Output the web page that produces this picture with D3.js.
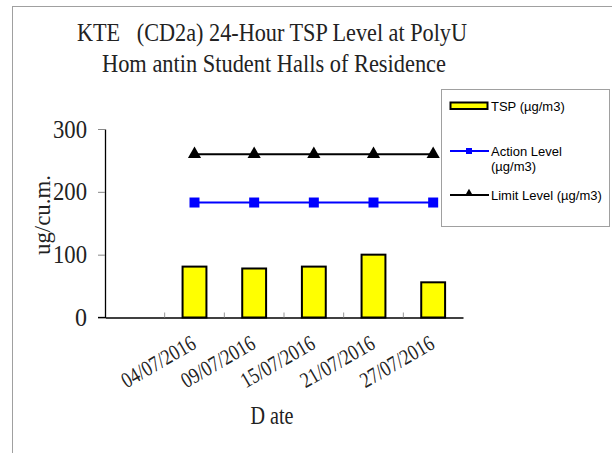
<!DOCTYPE html>
<html><head><meta charset="utf-8">
<script src="https://cdn.jsdelivr.net/npm/d3@7"></script>
<style>html,body{margin:0;padding:0;background:#fff;}svg{display:block;}</style>
</head><body>
<svg id="c" width="612" height="453"></svg>
<script>
const categories = ["", "04/07/2016", "09/07/2016", "15/07/2016", "21/07/2016", "27/07/2016"];
const tspValues = [null, 81, 78, 81, 100, 56];
const actionLevel = [null, 183, 183, 183, 183, 183];
const limitLevel = [null, 260, 260, 260, 260, 260];
const yTicks = [0, 100, 200, 300];
const titleLines = ["KTE   (CD2a) 24-Hour TSP Level at PolyU", "Hom antin Student Halls of Residence"];
const legendLabels = ["TSP (\u00b5g/m3)", "Action Level", "(\u00b5g/m3)", "Limit Level (\u00b5g/m3)"];

const svg = d3.select("#c");
const serif = "'Liberation Serif','Times New Roman',serif";
const sans = "'Liberation Sans',Arial,sans-serif";

// outer frame
svg.append("rect").attr("x", 12.5).attr("y", 6.5).attr("width", 640).attr("height", 480)
  .attr("fill", "none").attr("stroke", "#a0a0a0").attr("stroke-width", 1);

const x = d3.scaleBand().domain(categories).range([105, 463]).paddingInner(0).paddingOuter(0);
const y = d3.scaleLinear().domain([0, 300]).range([317.5, 129]);

// titles
svg.append("text").attr("x", 272).attr("y", 41).attr("text-anchor", "middle").style("white-space", "pre")
  .attr("font-family", serif).attr("font-size", 26).attr("fill", "#222")
  .attr("textLength", 390).attr("lengthAdjust", "spacingAndGlyphs").text(titleLines[0]);
svg.append("text").attr("x", 274).attr("y", 71.5).attr("text-anchor", "middle").style("white-space", "pre")
  .attr("font-family", serif).attr("font-size", 25).attr("fill", "#222")
  .attr("textLength", 344).attr("lengthAdjust", "spacingAndGlyphs").text(titleLines[1]);

// y axis
const yAxis = svg.append("g").attr("transform", "translate(105,0)")
  .call(d3.axisLeft(y).tickValues(yTicks).tickSize(7).tickSizeOuter(0).tickPadding(11));
yAxis.select(".domain").attr("stroke", "#000").attr("stroke-width", 1.3);
yAxis.selectAll(".tick line").attr("stroke", "#888");
yAxis.selectAll(".tick text").attr("font-family", serif).attr("font-size", 25).attr("fill", "#222")
  .attr("textLength", 34).attr("lengthAdjust", "spacingAndGlyphs");
yAxis.selectAll(".tick").filter(d => d === 0).select("text").attr("textLength", 12);

// x axis
const xAxis = svg.append("g").attr("transform", `translate(0,${y(0)})`)
  .call(d3.axisBottom(x).tickSize(0).tickSizeOuter(0).tickFormat(""));
xAxis.select(".domain").attr("stroke", "#000").attr("stroke-width", 1.3);
// band boundary ticks (upward)
svg.append("g").selectAll("line").data(categories.slice(1)).join("line")
  .attr("x1", d => x(d)).attr("x2", d => x(d))
  .attr("y1", y(0)).attr("y2", y(0) - 5).attr("stroke", "#999").attr("stroke-width", 1);
svg.append("line").attr("x1", 98).attr("x2", 105).attr("y1", y(0)).attr("y2", y(0)).attr("stroke", "#000").attr("stroke-width", 1.3);

// x tick labels
svg.append("g").selectAll("text").data(categories.filter(c => c !== "")).join("text")
  .attr("transform", d => `translate(${x(d) + x.bandwidth() / 2 + 3},${y(0) + 30}) rotate(-30)`)
  .attr("text-anchor", "end").attr("font-family", serif).attr("font-size", 22).attr("fill", "#222")
  .attr("textLength", 82).attr("lengthAdjust", "spacingAndGlyphs")
  .text(d => d);

// axis titles
svg.append("text").attr("transform", "translate(50,215) rotate(-90)").attr("text-anchor", "middle")
  .attr("font-family", serif).attr("font-size", 24).attr("fill", "#222")
  .attr("textLength", 80).attr("lengthAdjust", "spacingAndGlyphs").text("ug/cu.m.");
svg.append("text").attr("x", 272).attr("y", 424).attr("text-anchor", "middle").style("white-space", "pre")
  .attr("font-family", serif).attr("font-size", 26).attr("fill", "#222")
  .attr("textLength", 43).attr("lengthAdjust", "spacingAndGlyphs").text("D ate");

// bars
const bw = x.bandwidth() * 0.4;
const barData = categories.map((c, i) => ({c, v: tspValues[i]})).filter(d => d.v != null);
svg.append("g").selectAll("rect").data(barData).join("rect")
  .attr("x", d => x(d.c) + (x.bandwidth() - bw) / 2)
  .attr("y", d => y(d.v)).attr("width", bw).attr("height", d => y(0) - y(d.v))
  .attr("fill", "#ffff00").attr("stroke", "#000").attr("stroke-width", 2);

// lines
const cx = c => x(c) + x.bandwidth() / 2;
const actData = categories.map((c, i) => ({c, v: actionLevel[i]})).filter(d => d.v != null);
const limData = categories.map((c, i) => ({c, v: limitLevel[i]})).filter(d => d.v != null);
const line = d3.line().x(d => cx(d.c)).y(d => y(d.v));

svg.append("path").datum(limData).attr("d", line).attr("fill", "none").attr("stroke", "#000").attr("stroke-width", 2);
svg.append("g").selectAll("path").data(limData).join("path")
  .attr("transform", d => `translate(${cx(d.c)},${y(d.v)})`)
  .attr("d", d3.symbol(d3.symbolTriangle, 75)).attr("fill", "#000");

svg.append("path").datum(actData).attr("d", line).attr("fill", "none").attr("stroke", "#0000ff").attr("stroke-width", 2);
svg.append("g").selectAll("rect").data(actData).join("rect")
  .attr("x", d => cx(d.c) - 5).attr("y", d => y(d.v) - 5).attr("width", 10).attr("height", 10)
  .attr("fill", "#0000ff");

// legend
const lg = svg.append("g");
lg.append("rect").attr("x", 441.5).attr("y", 89.5).attr("width", 168).attr("height", 137)
  .attr("fill", "#fff").attr("stroke", "#a0a0a0").attr("stroke-width", 1);
lg.append("rect").attr("x", 450.5).attr("y", 102.5).attr("width", 37).attr("height", 6.5)
  .attr("fill", "#ffff00").attr("stroke", "#000").attr("stroke-width", 2);
lg.append("line").attr("x1", 450).attr("x2", 489).attr("y1", 151).attr("y2", 151).attr("stroke", "#0000ff").attr("stroke-width", 2);
lg.append("rect").attr("x", 466).attr("y", 148).attr("width", 6).attr("height", 6).attr("fill", "#0000ff");
lg.append("line").attr("x1", 450).attr("x2", 489).attr("y1", 195).attr("y2", 195).attr("stroke", "#000").attr("stroke-width", 2);
lg.append("path").attr("transform", "translate(469,193.5)").attr("d", d3.symbol(d3.symbolTriangle, 28)).attr("fill", "#000");
const lt = [[491, 110.5, legendLabels[0]], [491, 156, legendLabels[1]], [491, 171, legendLabels[2]], [491, 199.5, legendLabels[3]]];
lg.selectAll("text.l").data(lt).join("text").attr("class", "l")
  .attr("x", d => d[0]).attr("y", d => d[1]).attr("font-family", sans).attr("font-size", 13).attr("fill", "#000")
  .text(d => d[2]);
</script>
</body></html>
